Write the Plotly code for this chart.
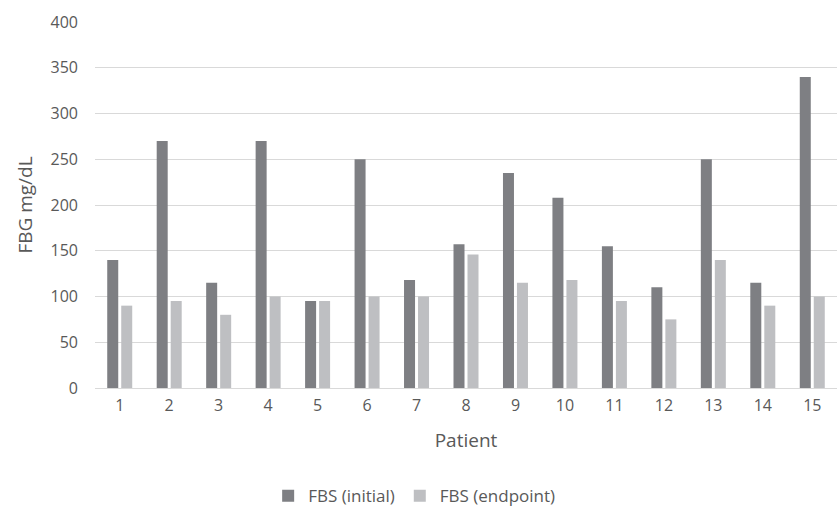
import plotly.graph_objects as go

patients = [str(i) for i in range(1, 16)]
fbs_initial = [140, 270, 115, 270, 95, 250, 118, 157, 235, 208, 155, 110, 250, 115, 340]
fbs_endpoint = [90, 95, 80, 100, 95, 100, 100, 146, 115, 118, 95, 75, 140, 90, 100]
y_ticks = [0, 50, 100, 150, 200, 250, 300, 350, 400]

FONT = "'Open Sans', sans-serif"
TEXT_COLOR = "#595959"

fig = go.Figure()
fig.add_trace(go.Bar(name="FBS (initial)", x=patients, y=fbs_initial,
                     marker=dict(color="#7e7f83", line=dict(width=0))))
fig.add_trace(go.Bar(name="FBS (endpoint)", x=patients, y=fbs_endpoint,
                     marker=dict(color="#bebfc2", line=dict(width=0))))

fig.update_layout(
    width=838, height=529,
    margin=dict(l=95, r=1, t=22, b=141),
    paper_bgcolor="white", plot_bgcolor="white",
    barmode="group", bargap=0.434, bargroupgap=0.214,
    font=dict(family=FONT, size=16, color=TEXT_COLOR),
    showlegend=True,
    legend=dict(orientation="h", x=0.32, xanchor="left", xref="container",
                y=0.062, yanchor="middle", yref="container",
                font=dict(size=17, color=TEXT_COLOR), itemwidth=30,
                traceorder="normal"),
    xaxis=dict(
        type="category", showgrid=False, zeroline=False, showline=False,
        ticks="", tickfont=dict(size=16, color=TEXT_COLOR),
        ticklabelstandoff=6, automargin=False,
        title=dict(text="Patient", font=dict(size=19, color=TEXT_COLOR), standoff=18),
    ),
    yaxis=dict(
        range=[0, 400], tickvals=y_ticks, showgrid=True, gridcolor="#d9d9d9",
        gridwidth=1, zeroline=True, zerolinecolor="#d9d9d9", zerolinewidth=1,
        showline=False, ticks="", tickfont=dict(size=16, color=TEXT_COLOR),
        ticklabelstandoff=16, automargin=False,
        title=dict(text="FBG mg/dL", font=dict(size=19, color=TEXT_COLOR), standoff=12),
    ),
)

fig.write_html("out.html")
